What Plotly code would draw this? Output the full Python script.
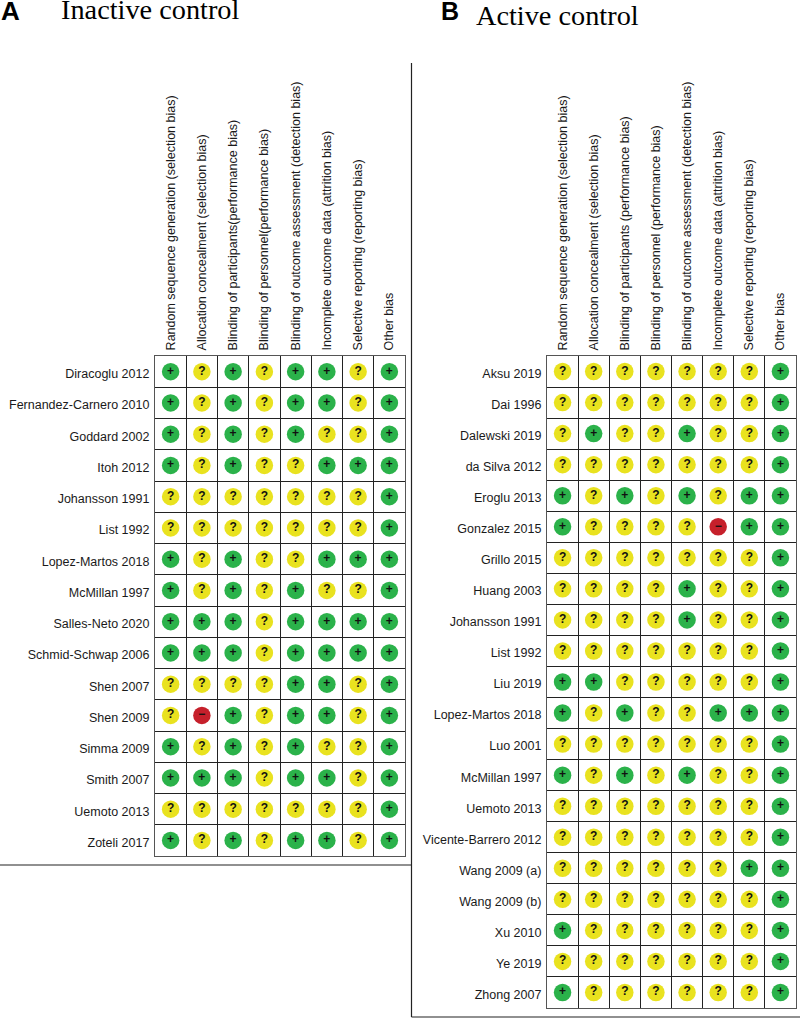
import plotly.graph_objects as go

# Domäner (kolumner) i de två panelerna
domains_a = [
    "Random sequence generation (selection bias)",
    "Allocation concealment (selection bias)",
    "Blinding of participants(performance bias)",
    "Blinding of personnel(performance bias)",
    "Blinding of outcome assessment (detection bias)",
    "Incomplete outcome data (attrition bias)",
    "Selective reporting (reporting bias)",
    "Other bias",
]
domains_b = [
    "Random sequence generation (selection bias)",
    "Allocation concealment (selection bias)",
    "Blinding of participants (performance bias)",
    "Blinding of personnel (performance bias)",
    "Blinding of outcome assessment (detection bias)",
    "Incomplete outcome data (attrition bias)",
    "Selective reporting (reporting bias)",
    "Other bias",
]

studies_a = [
    "Diracoglu 2012", "Fernandez-Carnero 2010", "Goddard 2002", "Itoh 2012",
    "Johansson 1991", "List 1992", "Lopez-Martos 2018", "McMillan 1997",
    "Salles-Neto 2020", "Schmid-Schwap 2006", "Shen 2007", "Shen 2009",
    "Simma 2009", "Smith 2007", "Uemoto 2013", "Zoteli 2017",
]
ratings_a = [
    "+?+?++?+", "+?+?++?+", "+?+?+??+", "+?+??+++",
    "???????+", "???????+", "+?+??+++", "+?+?+??+",
    "+++?++++", "+++?++++", "????++?+", "?-+?++?+",
    "+?+?+??+", "+++?++?+", "???????+", "+?+?++?+",
]

studies_b = [
    "Aksu 2019", "Dai 1996", "Dalewski 2019", "da Silva 2012", "Eroglu 2013",
    "Gonzalez 2015", "Grillo 2015", "Huang 2003", "Johansson 1991", "List 1992",
    "Liu 2019", "Lopez-Martos 2018", "Luo 2001", "McMillan 1997", "Uemoto 2013",
    "Vicente-Barrero 2012", "Wang 2009 (a)", "Wang 2009 (b)", "Xu 2010", "Ye 2019",
    "Zhong 2007",
]
ratings_b = [
    "???????+", "???????+", "?+??+??+", "???????+", "+?+?+?++",
    "+????-++", "???????+", "????+??+", "????+??+", "???????+",
    "++?????+", "+?+??+++", "???????+", "+?+?+??+", "???????+",
    "???????+", "??????++", "???????+", "+??????+", "???????+",
    "+??????+",
]

symbols = ["+", "?", "-"]
symbol_text = {"+": "+", "?": "?", "-": "−"}
colors = {"+": "#2bb24a", "?": "#e9e21f", "-": "#c6202b"}

W = 800
H = 1018


def px_x(x):
    return x / W


def px_y(y):
    return 1 - y / H


fig = go.Figure()


def add_panel(studies, ratings, domains, xname, yname):
    for s in symbols:
        xs, ys = [], []
        for study, row in zip(studies, ratings):
            for domain, r in zip(domains, row):
                if r == s:
                    xs.append(domain)
                    ys.append(study)
        fig.add_trace(go.Scatter(
            x=xs, y=ys, xaxis=xname, yaxis=yname,
            mode="markers+text",
            marker=dict(symbol="circle", size=17.5, color=colors[s]),
            text=[symbol_text[s]] * len(xs),
            textposition="middle center",
            textfont=dict(family="Liberation Sans", size=12, color="#111111", weight="bold"),
            showlegend=False,
        ))


add_panel(studies_a, ratings_a, domains_a, "x", "y")
add_panel(studies_b, ratings_b, domains_b, "x2", "y2")


def x_axis(domains, left, right, anchor):
    return dict(
        type="category", categoryorder="array", categoryarray=domains,
        range=[-0.5, 7.5], domain=[px_x(left), px_x(right)], anchor=anchor,
        side="top", tickangle=-90, tickson="boundaries",
        ticks="outside", ticklen=5, tickcolor="rgba(0,0,0,0)",
        ticklabelstandoff=2,
        showgrid=True, gridcolor="#222222", gridwidth=1,
        showline=True, linecolor="#555555", linewidth=1.2, mirror=True,
        zeroline=False,
        tickfont=dict(family="Liberation Sans", size=12.5, color="#1a1a1a"),
    )


def y_axis(studies, top, bottom, anchor):
    return dict(
        type="category", categoryorder="array", categoryarray=studies,
        range=[len(studies) - 0.5, -0.5], domain=[px_y(bottom), px_y(top)], anchor=anchor,
        tickson="boundaries",
        ticks="outside", ticklen=5, tickcolor="rgba(0,0,0,0)",
        ticklabelstandoff=2, ticklabelshift=-2,
        showgrid=True, gridcolor="#222222", gridwidth=1,
        showline=True, linecolor="#555555", linewidth=1.2, mirror=True,
        zeroline=False,
        tickfont=dict(family="Liberation Sans", size=12.5, color="#1a1a1a"),
    )


fig.update_layout(
    width=W, height=H,
    margin=dict(l=0, r=0, t=0, b=0),
    paper_bgcolor="white", plot_bgcolor="white",
    xaxis=x_axis(domains_a, 155, 405, "y"),
    yaxis=y_axis(studies_a, 356, 856, "x"),
    xaxis2=x_axis(domains_b, 547, 796, "y2"),
    yaxis2=y_axis(studies_b, 356, 1008, "x2"),
)

# Paneltitlar
for text, x, y, family, size, weight in [
    ("A", -1.5, 11, "Liberation Sans", 26, "bold"),
    ("Inactive control", 58.5, 10, "Liberation Serif", 28.3, "normal"),
    ("B", 439, 11, "Liberation Sans", 25, "bold"),
    ("Active control", 474, 15.5, "Liberation Serif", 28.3, "normal"),
]:
    fig.add_annotation(
        x=px_x(x), y=px_y(y), xref="paper", yref="paper",
        xanchor="left", yanchor="middle", showarrow=False, text=text,
        font=dict(family=family, size=size, color="black", weight=weight),
    )

# Avgränsande linjer mellan panelerna
for x0, y0, x1, y1 in [
    (0, 865, 411.5, 865),
    (411.5, 63, 411.5, 1017),
    (411.5, 1017, 800, 1017),
]:
    fig.add_shape(
        type="line", xref="paper", yref="paper",
        x0=px_x(x0), y0=px_y(y0), x1=px_x(x1), y1=px_y(y1),
        line=dict(color="#222222", width=1.2),
    )

fig.write_html(
    "out.html",
    config={"displayModeBar": False},
    post_script="document.body.style.margin='0';",
)
